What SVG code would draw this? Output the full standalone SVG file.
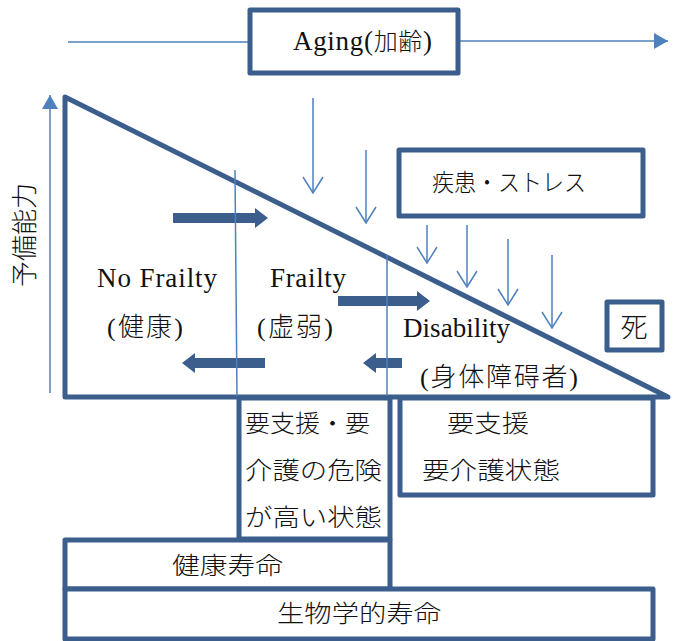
<svg xmlns="http://www.w3.org/2000/svg" width="677" height="641" viewBox="0 0 677 641">
<style>
.thick{fill:none;stroke:#3B5E8C;stroke-width:5;stroke-linejoin:round}
.box{fill:#fff;stroke:#3B5E8C;stroke-width:5;stroke-linejoin:round}
.thin{fill:none;stroke:#4F81BD;stroke-width:1.5}
.down{fill:none;stroke:#4F81BD;stroke-width:1.5;marker-end:url(#open)}
.t{font-family:"Liberation Serif","Noto Sans CJK JP",serif;font-size:27px;fill:#111}
.c{font-family:"Liberation Serif","Noto Sans CJK JP",serif;font-size:26px;fill:#111;font-weight:300}
.j{font-family:"Noto Sans CJK JP","Liberation Serif",sans-serif;font-size:24px;fill:#111;font-weight:300}
.fat{fill:#3B5E8C}
</style>
<defs>
<marker id="open" markerUnits="userSpaceOnUse" markerWidth="18" markerHeight="22" viewBox="0 0 18 22" refX="17" refY="11" orient="auto">
<path d="M1,1 L17,11 L1,21" fill="none" stroke="#4F81BD" stroke-width="1.5"/>
</marker>
<marker id="fill" markerUnits="userSpaceOnUse" markerWidth="14" markerHeight="16" viewBox="0 0 14 16" refX="14" refY="8" orient="auto">
<path d="M0,0 L14,8 L0,16 Z" fill="#4F81BD"/>
</marker>
</defs>

<g id="connectors">
<line class="thin" x1="68" y1="42" x2="250" y2="42"/>
<line class="thin" x1="458" y1="41" x2="668" y2="41" marker-end="url(#fill)"/>
<line class="thin" x1="50" y1="393" x2="50" y2="95" marker-end="url(#fill)"/>
<line class="down" x1="313" y1="98" x2="313" y2="193"/>
<line class="down" x1="366" y1="150" x2="366" y2="223"/>
<line class="down" x1="427" y1="225" x2="427" y2="263"/>
<line class="down" x1="467" y1="225" x2="467" y2="287"/>
<line class="down" x1="508" y1="239" x2="508" y2="305"/>
<line class="down" x1="552" y1="255" x2="552" y2="328"/>
<path class="fat" d="M173,213 L255,213 L255,208 L268,218 L255,228 L255,223 L173,223 Z"/>
<path class="fat" d="M265,358 L195,358 L195,353 L182,363 L195,373 L195,368 L265,368 Z"/>
<path class="fat" d="M338,296 L417,296 L417,291 L430,301 L417,311 L417,306 L338,306 Z"/>
<path class="fat" d="M402,358 L376,358 L376,353 L363,363 L376,373 L376,368 L402,368 Z"/>
</g>

<g id="triangle">
<path class="thick" d="M65,97 L65,397 L668,397 Z" stroke-linejoin="miter"/>
<line class="thin" x1="235" y1="170" x2="237" y2="397"/>
<line class="thin" x1="387" y1="255" x2="387" y2="397"/>
<text class="t" x="97" y="287" textLength="120" lengthAdjust="spacing">No Frailty</text>
<text class="c" x="107" y="336" textLength="76" lengthAdjust="spacing">(健康)</text>
<text class="t" x="270" y="287" textLength="76" lengthAdjust="spacing">Frailty</text>
<text class="c" x="257" y="336" textLength="76" lengthAdjust="spacing">(虚弱)</text>
<text class="t" x="403" y="337" textLength="107" lengthAdjust="spacing">Disability</text>
<text class="c" x="420" y="386" textLength="158" lengthAdjust="spacing">(身体障碍者)</text>
</g>

<g id="axis-label">
<text class="j" style="font-size:26px" transform="translate(34,235) rotate(-90)" text-anchor="middle">予備能力</text>
</g>

<g id="aging">
<rect class="box" x="250" y="10" width="208" height="63"/>
<text class="t" x="293" y="50" textLength="139" lengthAdjust="spacing">Aging(<tspan style="font-size:24px;font-weight:300">加齢</tspan>)</text>
</g>

<g id="stress">
<rect class="box" x="399" y="150" width="244" height="66"/>
<text class="j" x="432" y="191" textLength="154" lengthAdjust="spacingAndGlyphs">疾患・ストレス</text>
</g>

<g id="death">
<rect class="box" x="607" y="302" width="55" height="48"/>
<text class="j" style="font-size:27px" x="634" y="337" text-anchor="middle">死</text>
</g>

<g id="risk">
<rect class="box" x="239" y="398" width="151" height="141"/>
<text class="j" x="245" y="432" textLength="125" lengthAdjust="spacingAndGlyphs">要支援・要</text>
<text class="j" x="245" y="479" textLength="137" lengthAdjust="spacingAndGlyphs">介護の危険</text>
<text class="j" x="245" y="526" textLength="137" lengthAdjust="spacingAndGlyphs">が高い状態</text>
</g>

<g id="care">
<rect class="box" x="400" y="398" width="253" height="97"/>
<text class="j" x="447" y="432" textLength="82" lengthAdjust="spacingAndGlyphs">要支援</text>
<text class="j" x="422" y="479" textLength="138" lengthAdjust="spacingAndGlyphs">要介護状態</text>
</g>

<g id="healthy-life">
<rect class="box" x="65" y="540" width="325" height="49"/>
<text class="j" x="172" y="574" textLength="111" lengthAdjust="spacingAndGlyphs">健康寿命</text>
</g>

<g id="bio-life">
<rect class="box" x="65" y="589" width="588" height="50"/>
<text class="j" x="277" y="622" textLength="164" lengthAdjust="spacingAndGlyphs">生物学的寿命</text>
</g>
</svg>
